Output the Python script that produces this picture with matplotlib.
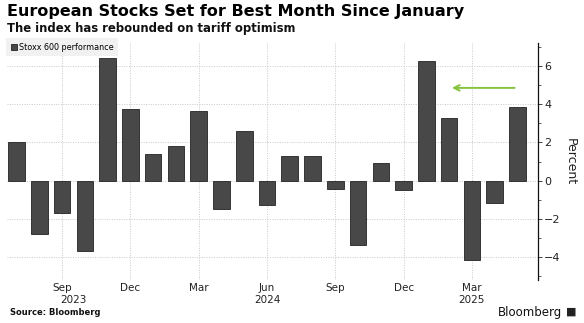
import matplotlib
matplotlib.use("Agg")
import matplotlib.pyplot as plt
from matplotlib.ticker import MultipleLocator

months = ["2023-07", "2023-08", "2023-09", "2023-10", "2023-11", "2023-12",
          "2024-01", "2024-02", "2024-03", "2024-04", "2024-05", "2024-06",
          "2024-07", "2024-08", "2024-09", "2024-10", "2024-11", "2024-12",
          "2025-01", "2025-02", "2025-03", "2025-04", "2025-05"]
performance = [2.03, -2.77, -1.71, -3.68, 6.40, 3.75,
               1.40, 1.83, 3.65, -1.50, 2.62, -1.29,
               1.31, 1.31, -0.42, -3.35, 0.94, -0.51,
               6.27, 3.26, -4.15, -1.19, 3.86]
tick_months = ["2023-09", "2023-12", "2024-03", "2024-06", "2024-09", "2024-12", "2025-03"]
tick_labels = ["Sep", "Dec", "Mar", "Jun", "Sep", "Dec", "Mar"]
year_months = ["2023-09", "2024-06", "2025-03"]
year_labels = ["2023", "2024", "2025"]
arrow_from = "2025-05"
arrow_to = "2025-02"
arrow_level = 4.85

x = list(range(len(months)))
pos = {m: i for i, m in enumerate(months)}

fig = plt.figure(figsize=(5.84, 3.23), dpi=100)
ax = fig.add_axes([0.012, 0.133, 0.9087, 0.734])

ax.bar(x, performance, width=0.73, color="#484848", edgecolor="#222222",
       linewidth=0.6, label="Stoxx 600 performance", zorder=3)

ax.set_xlim(-0.42, len(months) - 1 + 0.89)
ax.set_ylim(-5.2, 7.2)

ax.yaxis.tick_right()
ax.yaxis.set_label_position("right")
ax.yaxis.set_major_locator(MultipleLocator(2))
ax.yaxis.set_minor_locator(MultipleLocator(1))
ax.tick_params(axis="y", which="major", length=3, width=0.6, pad=1.5,
               labelsize=8, colors="#222222")
ax.tick_params(axis="y", which="minor", length=2, width=0.5, colors="#222222")
ax.set_ylabel("Percent", rotation=-90, labelpad=12, fontsize=9, color="#222222")

ax.set_xticks([pos[m] for m in tick_months])
ax.set_xticklabels(tick_labels, fontsize=7.5, color="#222222")
ax.tick_params(axis="x", length=0, pad=2)
for i, (m, lab) in enumerate(zip(year_months, year_labels)):
    dx = 8 if i == 0 else 0
    ax.annotate(lab, xy=(pos[m], 0), xycoords=("data", "axes fraction"),
                xytext=(dx, -10.5), textcoords="offset points",
                ha="center", va="top", fontsize=7.5, color="#222222")

ax.grid(True, which="major", color="#c8c8c8", linestyle=(0, (1, 1.5)), linewidth=0.7, zorder=0)
for s in ["top", "left", "bottom"]:
    ax.spines[s].set_visible(False)
ax.spines["right"].set_color("#111111")
ax.spines["right"].set_linewidth(0.9)

ax.annotate("", xy=(pos[arrow_to], arrow_level), xytext=(pos[arrow_from], arrow_level),
            arrowprops=dict(arrowstyle="->", color="#86c440", lw=1.4,
                            mutation_scale=10), zorder=4)

leg = ax.legend(loc="upper left", bbox_to_anchor=(-0.001, 1.02), fontsize=5.8,
                frameon=True, handlelength=0.7, handleheight=0.7, handletextpad=0.3,
                borderpad=0.55, borderaxespad=0.0)
leg.get_frame().set_facecolor("#eeeeee")
leg.get_frame().set_edgecolor("none")
leg.get_frame().set_boxstyle("square", pad=0)

fig.text(0.012, 0.964, "European Stocks Set for Best Month Since January",
         fontsize=11.5, fontweight="bold", va="center", ha="left", color="#000000")
fig.text(0.012, 0.913, "The index has rebounded on tariff optimism",
         fontsize=8.4, fontweight="bold", va="center", ha="left", color="#111111")
fig.text(0.017, 0.034, "Source: Bloomberg", fontsize=6, fontweight="bold",
         va="center", ha="left", color="#111111")
fig.text(0.963, 0.034, "Bloomberg", fontsize=8.5, va="center", ha="right", color="#111111")
fig.text(0.987, 0.036, "\u25A0", fontsize=8, va="center", ha="right", color="#222222")

fig.savefig("out.png", dpi=100)
